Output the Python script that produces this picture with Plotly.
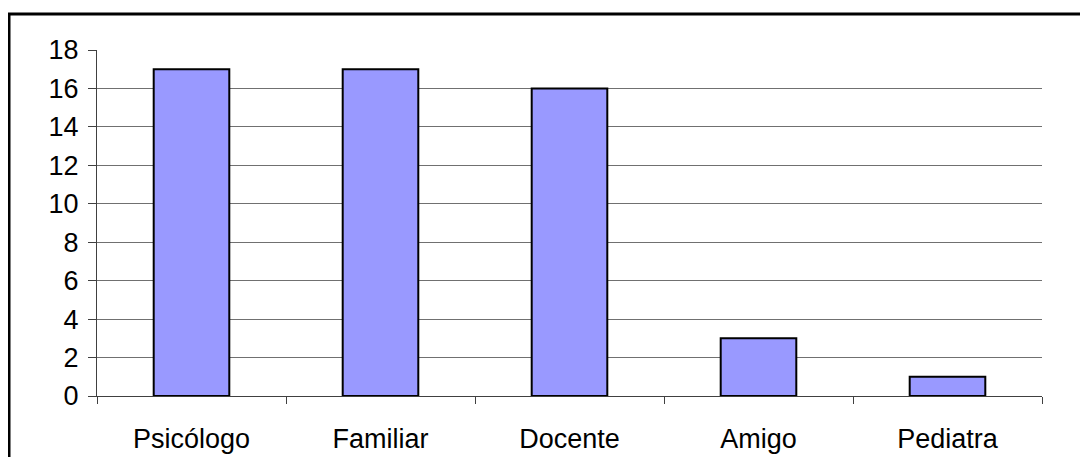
import plotly.graph_objects as go

categories = ["Psicólogo", "Familiar", "Docente", "Amigo", "Pediatra"]
values = [17, 17, 16, 3, 1]
y_ticks = [0, 2, 4, 6, 8, 10, 12, 14, 16, 18]

OFF = 8  # page body margin
W, H = 1088 - OFF, 457 - OFF
L, R, T, B = 97 - OFF, 1042 - OFF, 50 - OFF, 396 - OFF

fig = go.Figure(go.Bar(
    x=categories, y=values,
    marker=dict(color="#9999FF", line=dict(color="black", width=2)),
    width=0.40,
))

pw, ph = R - L, B - T
def px_x(x):
    return (x - OFF - L) / pw
def px_y(y):
    return (B - (y - OFF)) / ph

fig.add_shape(type="rect", xref="paper", yref="paper",
              x0=px_x(9), x1=px_x(1300), y0=px_y(14), y1=px_y(700),
              line=dict(color="black", width=3), fillcolor="rgba(0,0,0,0)", layer="above")

fig.update_layout(
    width=W, height=H,
    margin=dict(l=L, r=W - R, t=T, b=H - B, pad=0, autoexpand=False),
    paper_bgcolor="white", plot_bgcolor="white",
    font=dict(family="Liberation Sans, Arial", size=27, color="black"),
    showlegend=False,
)
fig.update_yaxes(
    range=[0, 18], tickvals=y_ticks, showgrid=True, gridcolor="#707070", gridwidth=1,
    showline=True, linecolor="#404040", linewidth=1,
    ticks="outside", ticklen=8, tickcolor="#404040", ticklabelstandoff=4,
    zeroline=False, tickfont=dict(size=27), automargin=False,
)
fig.update_xaxes(
    showline=True, linecolor="#404040", linewidth=1,
    ticks="outside", ticklen=7, tickcolor="#404040", tickson="boundaries",
    ticklabelstandoff=19, showgrid=False, tickfont=dict(size=27), automargin=False,
)

fig.write_html("out.html")
